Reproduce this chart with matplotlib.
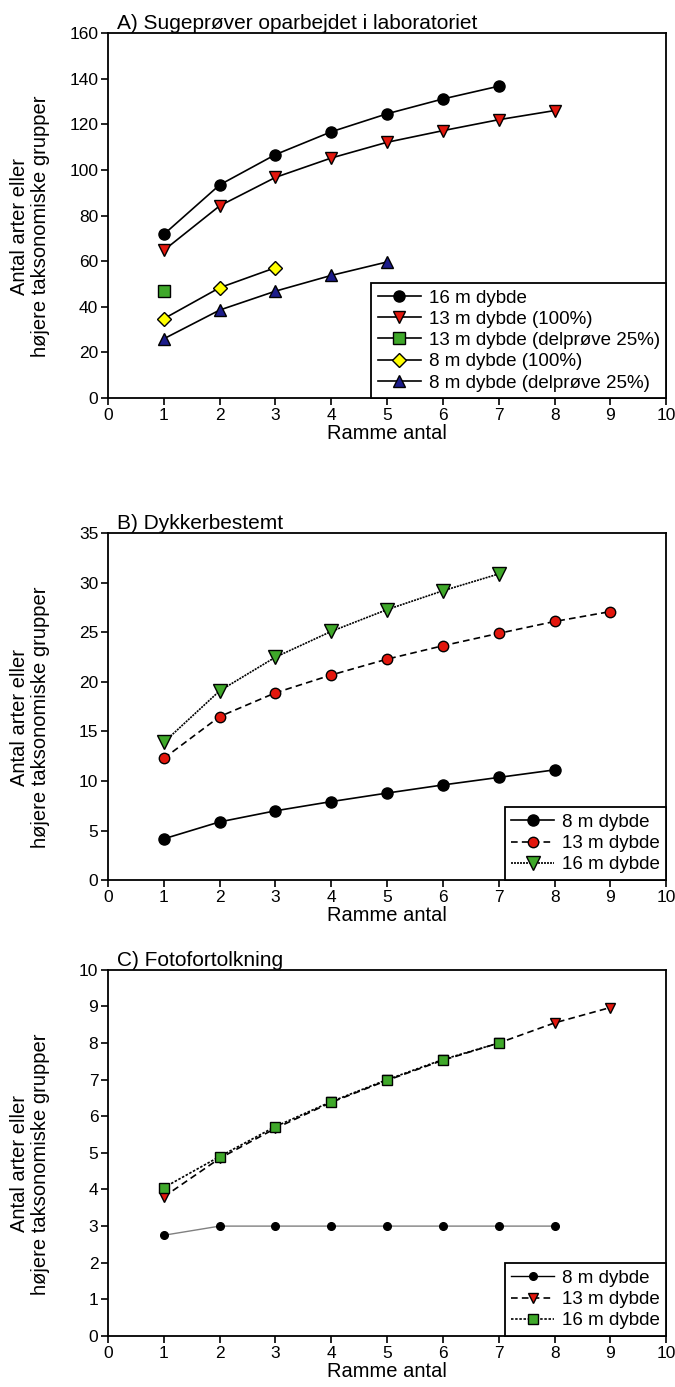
import matplotlib
matplotlib.use("Agg")
import matplotlib.pyplot as plt

plt.rcParams['font.family'] = ['Liberation Sans', 'DejaVu Sans']

# A) suction samples worked up in the lab
a_x16 = [1, 2, 3, 4, 5, 6, 7]
a_y16 = [71.8, 93.5, 106.8, 116.8, 124.7, 131.2, 136.8]
a_x13 = [1, 2, 3, 4, 5, 6, 7, 8]
a_y13 = [64.8, 84.3, 96.8, 105.3, 112.2, 117.3, 122.1, 126.1]
a_x13_sub = [1]
a_y13_sub = [46.9]
a_x8 = [1, 2, 3]
a_y8 = [34.8, 48.4, 57.2]
a_x8_sub = [1, 2, 3, 4, 5]
a_y8_sub = [26.0, 38.6, 46.9, 53.8, 59.7]

# B) diver identified
b_x8 = [1, 2, 3, 4, 5, 6, 7, 8]
b_y8 = [4.16, 5.87, 6.99, 7.92, 8.78, 9.6, 10.36, 11.12]
b_x13 = [1, 2, 3, 4, 5, 6, 7, 8, 9]
b_y13 = [12.28, 16.5, 18.9, 20.7, 22.3, 23.65, 24.9, 26.1, 27.1]
b_x16 = [1, 2, 3, 4, 5, 6, 7]
b_y16 = [13.9, 19.1, 22.5, 25.1, 27.3, 29.2, 30.9]

# C) photo interpretation
c_x8 = [1, 2, 3, 4, 5, 6, 7, 8]
c_y8 = [2.75, 3.0, 3.0, 3.0, 3.0, 3.0, 3.0, 3.0]
c_x13 = [1, 2, 3, 4, 5, 6, 7, 8, 9]
c_y13 = [3.8, 4.85, 5.67, 6.38, 6.98, 7.53, 8.0, 8.55, 8.97]
c_x16 = [1, 2, 3, 4, 5, 6, 7]
c_y16 = [4.05, 4.9, 5.72, 6.4, 7.0, 7.55, 8.0]

YLABEL = 'Antal arter eller\nhøjere taksonomiske grupper'
XLABEL = 'Ramme antal'

RED = '#e3170d'
GREEN = '#3fa82a'
YELLOW = '#ffff00'
NAVY = '#1c1c8a'

fig = plt.figure(figsize=(6.75, 13.87), dpi=100)
left, width = 0.16, 0.827
axA = fig.add_axes([left, 0.713, width, 0.263])
axB = fig.add_axes([left, 0.3655, width, 0.250])
axC = fig.add_axes([left, 0.0368, width, 0.264])


def style(ax, ymax, ystep, title):
    ax.set_xlim(0, 10)
    ax.set_ylim(0, ymax)
    ax.set_xticks(range(0, 11))
    ax.set_yticks([v for v in range(0, ymax + 1, ystep)])
    ax.tick_params(direction='out', length=5, width=1.2, labelsize=12.5,
                   pad=2)
    for s in ax.spines.values():
        s.set_linewidth(1.3)
    ax.set_xlabel(XLABEL, fontsize=14.5, labelpad=1)
    ax.set_ylabel(YLABEL, fontsize=14.5, linespacing=1.1)
    ax.yaxis.set_label_coords(-0.14, 0.47)
    ax.yaxis.label.set_va('center')
    ax.text(0.016, 1.0, title, transform=ax.transAxes, fontsize=15,
            ha='left', va='bottom')


def legend(ax):
    leg = ax.legend(loc='lower right', borderaxespad=0, fontsize=13.5,
                    fancybox=False, framealpha=1, edgecolor='black',
                    handlelength=2.3, handletextpad=0.4, labelspacing=0.22,
                    borderpad=0.35)
    leg.get_frame().set_linewidth(1.3)


# Panel A
kw = dict(color='black', lw=1.2, mec='black', mew=1.0)
axA.plot(a_x16, a_y16, marker='o', ms=8, mfc='black', label='16 m dybde', **kw)
axA.plot(a_x13, a_y13, marker='v', ms=9, mfc=RED, label='13 m dybde (100%)', **kw)
axA.plot(a_x13_sub, a_y13_sub, marker='s', ms=8, mfc=GREEN,
         label='13 m dybde (delprøve 25%)', **kw)
axA.plot(a_x8, a_y8, marker='D', ms=7.5, mfc=YELLOW, label='8 m dybde (100%)', **kw)
axA.plot(a_x8_sub, a_y8_sub, marker='^', ms=9, mfc=NAVY,
         label='8 m dybde (delprøve 25%)', **kw)
style(axA, 160, 20, 'A) Sugeprøver oparbejdet i laboratoriet')
legend(axA)

# Panel B
axB.plot(b_x8, b_y8, marker='o', ms=8, mfc='black', label='8 m dybde', **kw)
axB.plot(b_x13, b_y13, marker='o', ms=7.5, mfc=RED, ls=(0, (4, 2.5)),
         label='13 m dybde', **kw)
axB.plot(b_x16, b_y16, marker='v', ms=9.5, mfc=GREEN, ls=(0, (1.2, 0.6)),
         label='16 m dybde', **kw)
style(axB, 35, 5, 'B) Dykkerbestemt')
legend(axB)

# Panel C
axC.plot(c_x8, c_y8, marker='o', ms=5.5, mfc='black', mec='black',
         color='#808080', lw=1.0, label='8 m dybde')
axC.plot(c_x13, c_y13, marker='v', ms=7, mfc=RED, ls=(0, (4, 2.5)),
         label='13 m dybde', **kw)
axC.plot(c_x16, c_y16, marker='s', ms=6.5, mfc=GREEN, ls=(0, (1.5, 1)),
         label='16 m dybde', **kw)
style(axC, 10, 1, 'C) Fotofortolkning')
legend(axC)
axC.get_legend().get_lines()[0].set_color('black')

fig.savefig('out.png', dpi=100)
